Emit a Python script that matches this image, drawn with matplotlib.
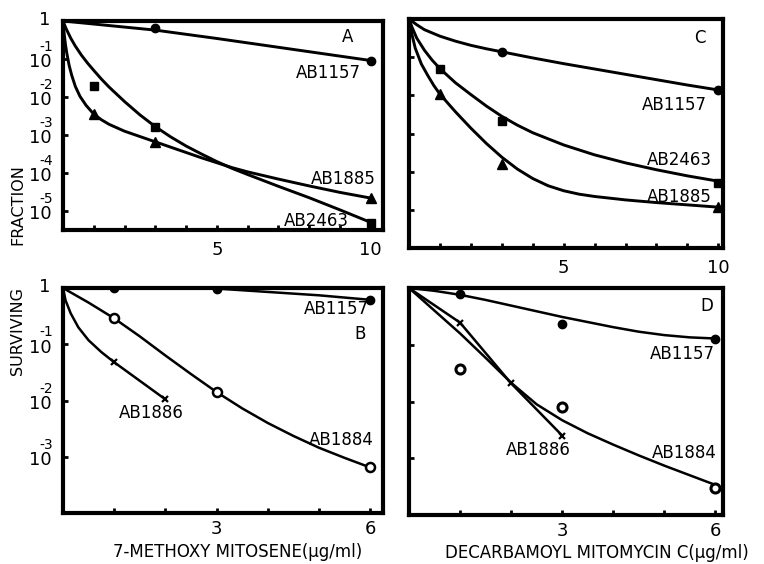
import numpy as np
import matplotlib.pyplot as plt

plt.rcParams['font.family'] = ['DejaVu Sans']

# all y values are log10(surviving fraction)

# Panel A: 7-methoxy mitosene, dose 0-10 ug/ml
a_1157_x = [3, 10]
a_1157_y = [-0.19, -1.04]
a_2463_x = [1, 3, 10]
a_2463_y = [-1.70, -2.80, -5.31]
a_1885_x = [1, 3, 10]
a_1885_y = [-2.45, -3.18, -4.66]
# hand drawn curves
a_1157_cx = [0, 1, 2, 3, 5, 7.5, 10]
a_1157_cy = [0, -0.08, -0.16, -0.24, -0.46, -0.75, -1.04]
a_2463_cx = [0, 0.1, 0.25, 0.4, 0.6, 0.8, 1.0, 1.25, 1.5, 2.0, 2.5, 3.0, 3.5, 4.0,
             4.5, 5.0, 5.5, 6.0, 7.0, 8.0, 9.0, 10]
a_2463_cy = [0, -0.20, -0.45, -0.66, -0.90, -1.11, -1.30, -1.53, -1.74, -2.12, -2.47,
             -2.78, -3.05, -3.29, -3.50, -3.70, -3.88, -4.04, -4.35, -4.65, -4.97, -5.30]
a_1885_cx = [0, 0.04, 0.08, 0.12, 0.2, 0.28, 0.4, 0.55, 0.75, 1.0, 1.25, 1.5, 2.0, 2.5,
             3.0, 3.5, 4.0, 4.5, 5.0, 5.5, 6.0, 7.0, 8.0, 9.0, 10]
a_1885_cy = [0, -0.35, -0.62, -0.83, -1.17, -1.42, -1.72, -1.98, -2.22, -2.45, -2.60,
             -2.72, -2.90, -3.04, -3.18, -3.32, -3.46, -3.60, -3.73, -3.86, -3.97, -4.16,
             -4.34, -4.51, -4.66]

# Panel C: decarbamoyl mitomycin C, dose 0-10 ug/ml
c_1157_x = [3, 10]
c_1157_y = [-0.87, -1.87]
c_2463_x = [1, 3, 10]
c_2463_y = [-1.30, -2.66, -4.30]
c_1885_x = [1, 3, 10]
c_1885_y = [-1.96, -3.81, -4.93]
c_1157_cx = [0, 0.25, 0.5, 1.0, 1.5, 2.0, 2.5, 3.0, 4.0, 5.0, 6.0, 7.0, 8.0, 9.0, 10]
c_1157_cy = [0, -0.15, -0.28, -0.45, -0.58, -0.69, -0.78, -0.86, -1.02, -1.17, -1.31,
             -1.45, -1.59, -1.73, -1.86]
c_2463_cx = [0, 0.1, 0.25, 0.5, 0.75, 1.0, 1.5, 2.0, 2.5, 3.0, 3.5, 4.0, 5.0, 6.0, 7.0,
             8.0, 9.0, 10]
c_2463_cy = [0, -0.22, -0.50, -0.82, -1.08, -1.30, -1.67, -1.98, -2.28, -2.55, -2.78,
             -2.98, -3.30, -3.56, -3.77, -3.95, -4.11, -4.25]
c_1885_cx = [0, 0.1, 0.2, 0.4, 0.6, 0.8, 1.0, 1.5, 2.0, 2.5, 3.0, 3.5, 4.0, 4.5, 5.0,
             5.5, 6.0, 7.0, 8.0, 9.0, 10]
c_1885_cy = [0, -0.42, -0.76, -1.18, -1.47, -1.74, -1.97, -2.43, -2.86, -3.26, -3.62,
             -3.93, -4.18, -4.37, -4.50, -4.59, -4.65, -4.74, -4.81, -4.87, -4.93]

# Panel B: 7-methoxy mitosene, dose 0-6 ug/ml
b_1157_x = [1, 3, 6]
b_1157_y = [0.0, -0.02, -0.21]
b_1884_x = [1, 3, 6]
b_1884_y = [-0.54, -1.85, -3.19]
b_1886_x = [1, 2]
b_1886_y = [-1.32, -1.98]
b_1157_cx = [0, 1, 2, 3, 3.5, 4, 4.5, 5, 5.5, 6]
b_1157_cy = [0, 0, 0, -0.01, -0.04, -0.07, -0.10, -0.13, -0.17, -0.21]
b_1884_cx = [0, 0.5, 1, 1.5, 2, 2.5, 3, 3.5, 4, 4.5, 5, 5.5, 6]
b_1884_cy = [0, -0.26, -0.54, -0.86, -1.20, -1.53, -1.85, -2.14, -2.40, -2.63, -2.84,
             -3.02, -3.19]
b_1886_cx = [0, 0.05, 0.15, 0.3, 0.5, 0.75, 1.0, 1.5, 2.0]
b_1886_cy = [0, -0.22, -0.45, -0.70, -0.93, -1.14, -1.32, -1.65, -1.98]

# Panel D: decarbamoyl mitomycin C, dose 0-6 ug/ml
d_1157_x = [1, 3, 6]
d_1157_y = [-0.11, -0.63, -0.89]
d_1884_x = [1, 3, 6]
d_1884_y = [-1.43, -2.10, -3.52]
d_1886_x = [1, 2, 3]
d_1886_y = [-0.61, -1.68, -2.60]
d_1157_cx = [0, 0.5, 1, 1.5, 2, 2.5, 3, 3.5, 4, 4.5, 5, 5.5, 6]
d_1157_cy = [0, -0.05, -0.12, -0.21, -0.31, -0.41, -0.51, -0.60, -0.69, -0.77, -0.83,
             -0.87, -0.89]
d_1884_cx = [0, 0.5, 1, 1.5, 2, 2.5, 3, 3.5, 4, 4.5, 5, 5.5, 6]
d_1884_cy = [0, -0.40, -0.80, -1.23, -1.67, -2.05, -2.33, -2.56, -2.76, -2.95, -3.13,
             -3.30, -3.47]
d_1886_cx = [0, 1, 2, 3]
d_1886_cy = [0, -0.61, -1.68, -2.60]


def pw(v):
    return 10.0 ** np.asarray(v, dtype=float)


def setup_axes(ax, xmax, ydec, xticks, xlabels, ylabels, pad=8):
    ax.set_yscale('log')
    ax.set_xlim(0, xmax)
    ax.set_ylim(10.0 ** ydec, 1)
    for s in ax.spines.values():
        s.set_linewidth(3)
    ax.set_xticks(xticks, labels=xlabels)
    ax.set_yticks([10.0 ** -k for k in range(1, int(ydec * -1) + 1)])
    ax.yaxis.set_minor_locator(plt.NullLocator())
    ax.set_yticklabels([])
    ax.tick_params(direction='in', length=3.5, width=2, top=False, right=False,
                   labelsize=13, pad=pad)
    if ylabels:
        ax.annotate('1', xy=(0, 1), xycoords=('axes fraction', 'data'),
                    xytext=(-9, 1), textcoords='offset points',
                    ha='right', va='center', fontsize=13)
        for k in ylabels:
            ax.annotate('10', xy=(0, 10.0 ** -k), xycoords=('axes fraction', 'data'),
                        xytext=(-8, -2.5), textcoords='offset points',
                        ha='right', va='center', fontsize=13)
            ax.annotate('-%d' % k, xy=(0, 10.0 ** -k), xycoords=('axes fraction', 'data'),
                        xytext=(-17, 8.5), textcoords='offset points',
                        ha='left', va='center', fontsize=10)


def label(ax, x, y, s):
    ax.text(x, 10.0 ** y, s, ha='center', va='center', fontsize=12)


fig = plt.figure(figsize=(7.64, 5.64), dpi=100)

ax_a = fig.add_axes([63 / 764, 1 - 230 / 564, 320 / 764, 209 / 564])
ax_c = fig.add_axes([409 / 764, 1 - 248 / 564, 314 / 764, 229 / 564])
ax_b = fig.add_axes([63 / 764, 1 - 513 / 564, 320 / 764, 225 / 564])
ax_d = fig.add_axes([409 / 764, 1 - 515 / 564, 314 / 764, 227 / 564])

ten_ticks = list(range(1, 11))
ten_labels = ['', '', '', '', '5', '', '', '', '', '10']
six_ticks = list(range(1, 7))
six_labels = ['', '', '3', '', '', '6']

setup_axes(ax_a, 10.4, -5.5, ten_ticks, ten_labels, [1, 2, 3, 4, 5])
setup_axes(ax_c, 10.15, -6, ten_ticks, ten_labels, None)
setup_axes(ax_b, 6.25, -4, six_ticks, six_labels, [1, 2, 3], pad=5)
setup_axes(ax_d, 6.15, -4, six_ticks, six_labels, None, pad=5)

line_kw = dict(color='black', lw=2.1, solid_capstyle='round', solid_joinstyle='round')

# panel A
ax_a.plot(a_1157_cx, pw(a_1157_cy), **line_kw)
ax_a.plot(a_2463_cx, pw(a_2463_cy), **line_kw)
ax_a.plot(a_1885_cx, pw(a_1885_cy), **line_kw)
ax_a.plot(a_1157_x, pw(a_1157_y), 'o', color='black', ms=6)
ax_a.plot(a_2463_x, pw(a_2463_y), 's', color='black', ms=5.5)
ax_a.plot(a_1885_x, pw(a_1885_y), '^', color='black', ms=7)
label(ax_a, 9.25, -0.43, 'A')
label(ax_a, 8.63, -1.36, 'AB1157')
label(ax_a, 9.12, -4.15, 'AB1885')
label(ax_a, 8.24, -5.27, 'AB2463')

# panel C
ax_c.plot(c_1157_cx, pw(c_1157_cy), **line_kw)
ax_c.plot(c_2463_cx, pw(c_2463_cy), **line_kw)
ax_c.plot(c_1885_cx, pw(c_1885_cy), **line_kw)
ax_c.plot(c_1157_x, pw(c_1157_y), 'o', color='black', ms=6)
ax_c.plot(c_2463_x, pw(c_2463_y), 's', color='black', ms=5.5)
ax_c.plot(c_1885_x, pw(c_1885_y), '^', color='black', ms=7)
label(ax_c, 9.39, -0.51, 'C')
label(ax_c, 8.58, -2.26, 'AB1157')
label(ax_c, 8.74, -3.70, 'AB2463')
label(ax_c, 8.74, -4.67, 'AB1885')

# panel B
thin_kw = dict(color='black', lw=1.8, solid_capstyle='round', solid_joinstyle='round')
ax_b.plot(b_1157_cx, pw(b_1157_cy), **thin_kw)
ax_b.plot(b_1884_cx, pw(b_1884_cy), **thin_kw)
ax_b.plot(b_1886_cx, pw(b_1886_cy), **thin_kw)
ax_b.plot(b_1157_x, pw(b_1157_y), 'o', color='black', ms=6)
ax_b.plot(b_1884_x, pw(b_1884_y), 'o', mfc='white', mec='black', mew=1.8, ms=6.5)
ax_b.plot(b_1886_x, pw(b_1886_y), 'x', color='black', mew=1.6, ms=5)
label(ax_b, 5.33, -0.38, 'AB1157')
label(ax_b, 5.80, -0.82, 'B')
label(ax_b, 1.73, -2.23, 'AB1886')
label(ax_b, 5.43, -2.71, 'AB1884')

# panel D
ax_d.plot(d_1157_cx, pw(d_1157_cy), **thin_kw)
ax_d.plot(d_1884_cx, pw(d_1884_cy), **thin_kw)
ax_d.plot(d_1886_cx, pw(d_1886_cy), **thin_kw)
ax_d.plot(d_1157_x, pw(d_1157_y), 'o', color='black', ms=6)
ax_d.plot(d_1884_x, pw(d_1884_y), 'o', mfc='white', mec='black', mew=2.2, ms=6.5)
ax_d.plot(d_1886_x, pw(d_1886_y), 'x', color='black', mew=1.6, ms=5)
label(ax_d, 5.83, -0.31, 'D')
label(ax_d, 5.36, -1.17, 'AB1157')
label(ax_d, 2.54, -2.85, 'AB1886')
label(ax_d, 5.40, -2.91, 'AB1884')

# shared axis titles
fig.text(18 / 764, 1 - 205 / 564, 'FRACTION', rotation=90, ha='center', va='center', fontsize=11.5)
fig.text(18 / 764, 1 - 331 / 564, 'SURVIVING', rotation=90, ha='center', va='center', fontsize=11.5)
fig.text(238 / 764, 1 - 552 / 564, '7-METHOXY MITOSENE(µg/ml)', ha='center', va='center', fontsize=12)
fig.text(597 / 764, 1 - 553 / 564, 'DECARBAMOYL MITOMYCIN C(µg/ml)', ha='center', va='center', fontsize=12)

fig.savefig('out.png', dpi=100)
